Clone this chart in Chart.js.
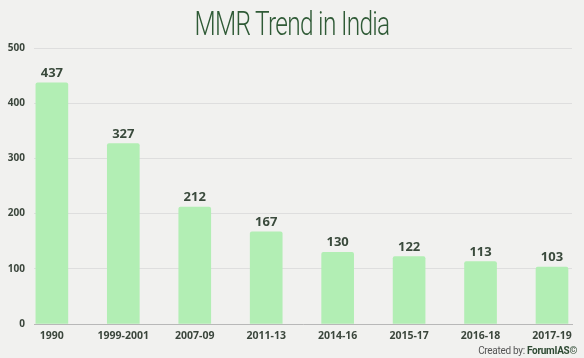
<!DOCTYPE html>
<html>
<head>
<meta charset="utf-8">
<script src="https://cdn.jsdelivr.net/npm/chart.js@4"></script>
<style>
  html, body { margin: 0; padding: 0; background: #f1f1ef; }
  #wrap { position: relative; width: 584px; height: 358px; }
  #title {
    position: absolute; left: 0; top: 3px; width: 584px; text-align: center;
    font-family: 'Roboto', sans-serif; font-weight: 300; font-size: 34px; color: #2f5a36;
    letter-spacing: -1px;
    transform: scaleX(0.72); transform-origin: 50% 0;
  }
  #credit {
    position: absolute; right: 7px; bottom: 2px;
    font-family: 'Roboto', sans-serif; font-size: 10px; color: #555;
    letter-spacing: -0.3px;
  }
  #credit b { color: #2e4a33; font-weight: 700; }
</style>
</head>
<body>
<div id="wrap">
  <div id="title">MMR Trend in India</div>
  <canvas id="chart" width="584" height="358"></canvas>
  <div id="credit">Created by: <b>ForumIAS©</b></div>
</div>
<script>
const categories = ['1990', '1999-2001', '2007-09', '2011-13', '2014-16', '2015-17', '2016-18', '2017-19'];
const mmrValues = [437, 327, 212, 167, 130, 122, 113, 103];
const yTicks = [0, 100, 200, 300, 400, 500];

// value labels above each bar
const valueLabels = {
  id: 'valueLabels',
  afterDatasetsDraw(chart) {
    const ctx = chart.ctx;
    const meta = chart.getDatasetMeta(0);
    ctx.save();
    ctx.font = 'bold 13px "Open Sans", sans-serif';
    ctx.fillStyle = '#3a4a3c';
    ctx.textAlign = 'center';
    ctx.textBaseline = 'bottom';
    meta.data.forEach((bar, i) => {
      ctx.fillText(mmrValues[i], bar.x, bar.y - 3);
    });
    ctx.restore();
  }
};

const ctx = document.getElementById('chart').getContext('2d');
new Chart(ctx, {
  type: 'bar',
  data: {
    datasets: [{
      data: mmrValues.map((v, i) => ({ x: i, y: v })),
      backgroundColor: '#b2eeb4',
      barThickness: 32,
      borderRadius: { topLeft: 2, topRight: 2 },
      borderSkipped: 'bottom'
    }]
  },
  options: {
    responsive: false,
    animation: false,
    layout: { padding: { top: 48, right: 12, left: 0, bottom: 0 } },
    plugins: {
      legend: { display: false },
      tooltip: { enabled: false },
      title: { display: false }
    },
    scales: {
      x: {
        type: 'linear',
        offset: false,
        min: -0.25,
        max: 7.28,
        grid: { display: false, drawTicks: false, offset: false },
        border: { display: true, color: '#b8b8b8' },
        afterBuildTicks: (scale) => {
          scale.ticks = categories.map((c, i) => ({ value: i }));
        },
        afterFit: (scale) => { scale.height = 34; },
        ticks: {
          autoSkip: false,
          maxRotation: 0,
          padding: 6,
          color: '#3b463c',
          font: { family: '"Open Sans", sans-serif', size: 10.5, weight: 'bold' },
          callback: (v) => categories[v]
        }
      },
      y: {
        min: 0,
        max: 500,
        afterBuildTicks: (scale) => {
          scale.ticks = yTicks.map(v => ({ value: v }));
        },
        afterFit: (scale) => { scale.width = 34; },
        grid: { color: '#dedede', drawTicks: false },
        border: { display: false },
        ticks: {
          padding: 9,
          color: '#3b463c',
          font: { family: '"Open Sans", sans-serif', size: 10, weight: 'bold' }
        }
      }
    }
  },
  plugins: [valueLabels]
});
</script>
</body>
</html>
